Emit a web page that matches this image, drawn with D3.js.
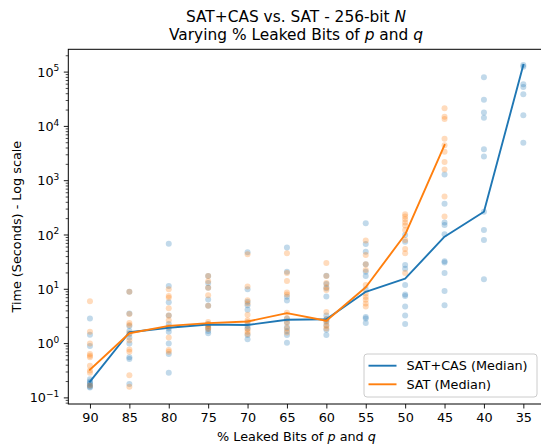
<!DOCTYPE html>
<html>
<head>
<meta charset="utf-8">
<script src="https://cdn.jsdelivr.net/npm/d3@7"></script>
<style>
  html, body { margin: 0; padding: 0; background: #fff; }
  svg { display: block; font-family: "DejaVu Sans", sans-serif; }
</style>
</head>
<body>
<svg id="chart" width="541" height="444"></svg>
<script>
// ---- data ----
const categories = ["90","85","80","75","70","65","60","55","50","45","40","35"];

// individual runs, SAT+CAS (seconds)
const satCasRuns = [
  [2.9, 1.45, 0.9, 0.22, 0.2, 0.19, 0.18, 0.17, 0.16, 0.155],
  [9.0, 3.6, 2.1, 1.7, 1.5, 1.3, 1.0, 0.56, 0.52, 0.18],
  [69, 11.5, 5.8, 3.3, 2.3, 1.9, 1.66, 1.0, 0.64, 0.29],
  [17.6, 13, 10.7, 6.5, 5.0, 2.3, 2.1, 1.9, 1.7, 1.55],
  [48, 10, 5.9, 5.1, 4.2, 2.4, 2.1, 1.9, 1.44, 1.2],
  [59, 21, 7.3, 6.2, 2.9, 2.5, 2.0, 1.7, 1.44, 1.04],
  [17.8, 12.5, 10.4, 7.4, 3.3, 2.8, 2.6, 2.2, 1.8, 1.44],
  [164, 68, 49, 29, 21, 17.6, 10, 3.1, 2.9, 2.4],
  [100, 75, 28, 24, 12, 8, 7.5, 4.8, 3.3, 2.3],
  [1300, 375, 170, 153, 103, 33, 31, 20, 9.3, 5.1],
  [80000, 31000, 18000, 14400, 3800, 2800, 268, 123, 81, 15.3],
  [135000, 125000, 60000, 53000, 39000, 16000, 5000]
];

// individual runs, SAT only (seconds); none finished for 40 and 35
const satRuns = [
  [6.0, 1.66, 1.0, 0.64, 0.6, 0.56, 0.39, 0.32, 0.29, 0.17],
  [9.0, 3.5, 2.4, 2.2, 1.55, 1.15, 0.78, 0.71, 0.26, 0.16],
  [10, 7.5, 7.0, 4.5, 3.3, 2.7, 2.05, 1.3, 0.76, 0.71],
  [17.6, 14, 10.7, 7.8, 5.0, 2.5, 2.3, 2.2, 2.0, 1.85],
  [44, 11.2, 6.3, 5.5, 3.4, 2.7, 2.5, 1.85, 1.66, 1.5],
  [46, 20, 14.2, 8.7, 8.0, 3.7, 2.9, 2.4, 1.9, 1.6],
  [30.5, 17.5, 13, 10.9, 9.7, 3.8, 2.8, 2.5, 2.1, 1.9],
  [79, 43, 29, 22.6, 12, 8.4, 7.2, 6.4, 5.5, 4.8],
  [240, 218, 195, 170, 150, 124, 81, 55, 46, 20],
  [21500, 15000, 13700, 5900, 4500, 3400, 2200, 1600, 510, 220],
  [],
  []
];

const satCasMedian = [0.2, 1.62, 1.96, 2.25, 2.2, 2.75, 2.8, 9.0, 15.7, 93, 268, 135000];
const satMedian    = [0.33, 1.55, 2.12, 2.38, 2.55, 3.65, 2.64, 10.9, 102, 4540, null, null];

const yTickExps = [-1, 0, 1, 2, 3, 4, 5];

const titleLine1 = ["SAT+CAS vs. SAT - 256-bit ", "N"];
const titleLine2 = ["Varying % Leaked Bits of ", "p", " and ", "q"];
const xLabelParts = ["% Leaked Bits of ", "p", " and ", "q"];
const yLabel = "Time (Seconds) - Log scale";
const legendLabels = ["SAT+CAS (Median)", "SAT (Median)"];

// ---- layout ----
const colors = ["#1f77b4", "#ff7f0e"];
const svg = d3.select("#chart");
const plotLeft = 68.3, plotRight = 545, plotTop = 49.3, plotBottom = 404;

const x = d3.scalePoint().domain(categories).range([plotLeft, plotRight]).padding(0.55);
const y = d3.scaleLog().domain([Math.pow(10, -1.1125), Math.pow(10, 5.42)]).range([plotBottom, plotTop]);

const tickFont = 12.8;

// points
function drawRuns(runs, color) {
  const pts = [];
  runs.forEach((arr, i) => arr.forEach(v => pts.push({c: categories[i], v})));
  svg.append("g").selectAll("circle").data(pts).join("circle")
    .attr("cx", d => x(d.c)).attr("cy", d => y(d.v)).attr("r", 3)
    .attr("fill", color).attr("fill-opacity", 0.28);
}
drawRuns(satCasRuns, colors[0]);
drawRuns(satRuns, colors[1]);

// median lines
function drawLine(vals, color) {
  const data = vals.map((v, i) => ({c: categories[i], v}));
  const line = d3.line().defined(d => d.v != null).x(d => x(d.c)).y(d => y(d.v));
  svg.append("path").datum(data).attr("d", line)
    .attr("fill", "none").attr("stroke", color).attr("stroke-width", 1.9)
    .attr("stroke-linejoin", "round").attr("stroke-linecap", "square");
}
drawLine(satCasMedian, colors[0]);
drawLine(satMedian, colors[1]);

// axes frame
svg.append("rect").attr("x", plotLeft).attr("y", plotTop)
  .attr("width", plotRight - plotLeft).attr("height", plotBottom - plotTop)
  .attr("fill", "none").attr("stroke", "#000").attr("stroke-width", 1);

// x axis
const xAxis = d3.axisBottom(x).tickSize(4.5).tickPadding(4.2);
const gx = svg.append("g").attr("transform", `translate(0,${plotBottom})`).call(xAxis);
gx.select(".domain").remove();
gx.selectAll("text").attr("font-size", tickFont).attr("font-family", "DejaVu Sans").attr("fill", "#000");
gx.selectAll("line").attr("stroke", "#000").attr("stroke-width", 0.9);

// y axis: major and minor ticks
const majorVals = yTickExps.map(e => Math.pow(10, e));
const minorVals = [];
for (let e = -2; e <= 5; e++) for (let m = 2; m <= 9; m++) {
  const v = m * Math.pow(10, e);
  if (v >= y.domain()[0] && v <= y.domain()[1]) minorVals.push(v);
}
const gy = svg.append("g");
gy.selectAll("line.major").data(majorVals).join("line").attr("class", "major")
  .attr("x1", plotLeft - 4.5).attr("x2", plotLeft).attr("y1", d => y(d)).attr("y2", d => y(d))
  .attr("stroke", "#000").attr("stroke-width", 0.9);
gy.selectAll("line.minor").data(minorVals).join("line").attr("class", "minor")
  .attr("x1", plotLeft - 2.6).attr("x2", plotLeft).attr("y1", d => y(d)).attr("y2", d => y(d))
  .attr("stroke", "#000").attr("stroke-width", 0.7);
const ylabels = gy.selectAll("text").data(yTickExps).join("text")
  .attr("x", plotLeft - 9).attr("y", d => y(Math.pow(10, d)) + 4.6)
  .attr("text-anchor", "end").attr("font-size", tickFont).attr("fill", "#000");
ylabels.append("tspan").text("10");
ylabels.append("tspan").attr("dy", -5.5).attr("font-size", 9)
  .text(d => d < 0 ? "\u2212" + Math.abs(d) : String(d));

// rich text helper
function richText(parts, xpos, ypos, size, anchor, italicIdx) {
  const t = svg.append("text").attr("x", xpos).attr("y", ypos)
    .attr("text-anchor", anchor).attr("font-size", size).attr("fill", "#000");
  parts.forEach((p, i) => {
    const ts = t.append("tspan").text(p);
    if (italicIdx.includes(i)) ts.attr("font-style", "italic");
  });
  return t;
}
richText(titleLine1, 296, 21.5, 15.4, "middle", [1]);
richText(titleLine2, 296, 39.5, 15.4, "middle", [1, 3]);

// x label
richText(xLabelParts, 296.5, 440.5, tickFont, "middle", [1, 3]);

// y label
svg.append("text").attr("transform", `translate(21,${(plotTop + plotBottom) / 2}) rotate(-90)`)
  .attr("text-anchor", "middle").attr("font-size", tickFont).attr("fill", "#000")
  .text(yLabel);

// legend
const lg = svg.append("g");
lg.append("rect").attr("x", 364).attr("y", 354).attr("width", 173).attr("height", 43)
  .attr("rx", 3).attr("fill", "#fff").attr("fill-opacity", 0.8)
  .attr("stroke", "#cccccc").attr("stroke-width", 1);
legendLabels.forEach((lab, i) => {
  const ly = 365.7 + i * 18.6;
  lg.append("line").attr("x1", 368.5).attr("x2", 396.5).attr("y1", ly).attr("y2", ly)
    .attr("stroke", colors[i]).attr("stroke-width", 1.9);
  lg.append("text").attr("x", 406.5).attr("y", ly + 4.6)
    .attr("font-size", tickFont).attr("fill", "#000").text(lab);
});
</script>
</body>
</html>
